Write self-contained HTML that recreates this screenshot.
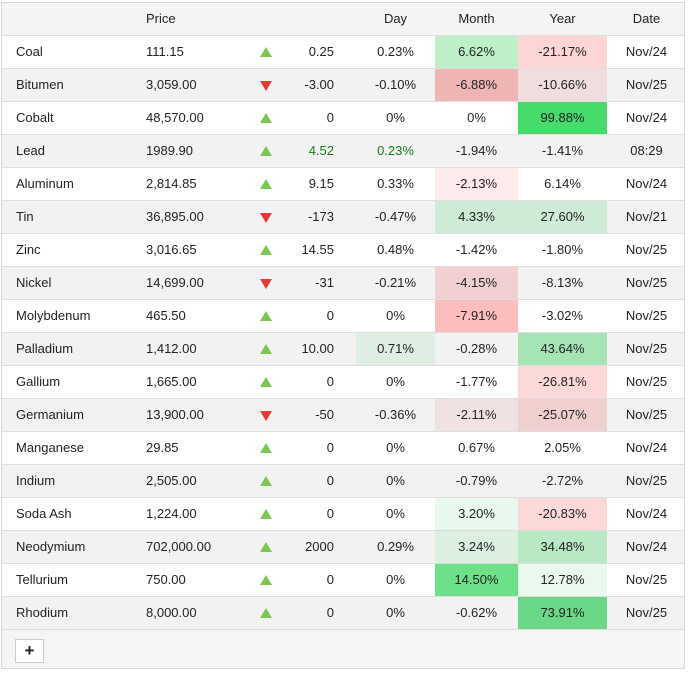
<!DOCTYPE html>
<html><head><style>
body{margin:0;width:689px;height:673px;background:#fff;font-family:"Liberation Sans",Arial,sans-serif;font-size:13px;color:#222;position:relative;overflow:hidden}
.wrap{position:absolute;left:1px;top:2px;width:684px;height:667px;border:1px solid #d8d8d8;box-sizing:border-box;background:#f5f5f5}
.r{position:absolute;left:0;width:682px;height:33px;border-bottom:1px solid #dedede;box-sizing:border-box;background:#fff}
.r.g{background:#f2f2f2}
.r.h{background:#f4f4f4}
.c{position:absolute;top:0;height:32px;line-height:32px;white-space:nowrap}
.n{left:14px}.p{left:144px}
.a{position:absolute;left:258px;top:11px;width:0;height:0;border-left:6px solid transparent;border-right:6px solid transparent}
.up{border-bottom:10px solid #7cc653}
.dn{border-top:10px solid #e53935;top:12px}
.ch{left:280px;width:52px;text-align:right}
.d{left:354px;width:79px;text-align:center}
.m{left:433px;width:83px;text-align:center}
.y{left:516px;width:89px;text-align:center}
.t{left:605px;width:79px;text-align:center}
.btn{position:absolute;left:15px;top:639px;width:29px;height:24px;border:1px solid #ccc;background:#fff;box-sizing:border-box;text-align:center;line-height:22px;font-weight:bold;font-size:17px}
</style></head><body><div class="wrap">
<div class="r h" style="top:0"><div class="c p">Price</div><div class="c d">Day</div><div class="c m">Month</div><div class="c y">Year</div><div class="c t">Date</div></div>
<div class="r" style="top:33px"><div class="c n">Coal</div><div class="c p">111.15</div><div class="a up"></div><div class="c ch">0.25</div><div class="c d">0.23%</div><div class="c m" style="background:#bdf0c9">6.62%</div><div class="c y" style="background:#fdd5d5">-21.17%</div><div class="c t">Nov/24</div></div>
<div class="r g" style="top:66px"><div class="c n">Bitumen</div><div class="c p">3,059.00</div><div class="a dn"></div><div class="c ch">-3.00</div><div class="c d">-0.10%</div><div class="c m" style="background:#efb5b5">-6.88%</div><div class="c y" style="background:#f0dddd">-10.66%</div><div class="c t">Nov/25</div></div>
<div class="r" style="top:99px"><div class="c n">Cobalt</div><div class="c p">48,570.00</div><div class="a up"></div><div class="c ch">0</div><div class="c d">0%</div><div class="c m">0%</div><div class="c y" style="background:#46dc6c">99.88%</div><div class="c t">Nov/24</div></div>
<div class="r g" style="top:132px"><div class="c n">Lead</div><div class="c p">1989.90</div><div class="a up"></div><div class="c ch" style="color:#1a7a1a">4.52</div><div class="c d" style="color:#1a7a1a">0.23%</div><div class="c m">-1.94%</div><div class="c y">-1.41%</div><div class="c t">08:29</div></div>
<div class="r" style="top:165px"><div class="c n">Aluminum</div><div class="c p">2,814.85</div><div class="a up"></div><div class="c ch">9.15</div><div class="c d">0.33%</div><div class="c m" style="background:#fdeaea">-2.13%</div><div class="c y">6.14%</div><div class="c t">Nov/24</div></div>
<div class="r g" style="top:198px"><div class="c n">Tin</div><div class="c p">36,895.00</div><div class="a dn"></div><div class="c ch">-173</div><div class="c d">-0.47%</div><div class="c m" style="background:#cdebd5">4.33%</div><div class="c y" style="background:#cdebd5">27.60%</div><div class="c t">Nov/21</div></div>
<div class="r" style="top:231px"><div class="c n">Zinc</div><div class="c p">3,016.65</div><div class="a up"></div><div class="c ch">14.55</div><div class="c d">0.48%</div><div class="c m">-1.42%</div><div class="c y">-1.80%</div><div class="c t">Nov/25</div></div>
<div class="r g" style="top:264px"><div class="c n">Nickel</div><div class="c p">14,699.00</div><div class="a dn"></div><div class="c ch">-31</div><div class="c d">-0.21%</div><div class="c m" style="background:#f0d0d0">-4.15%</div><div class="c y">-8.13%</div><div class="c t">Nov/25</div></div>
<div class="r" style="top:297px"><div class="c n">Molybdenum</div><div class="c p">465.50</div><div class="a up"></div><div class="c ch">0</div><div class="c d">0%</div><div class="c m" style="background:#fdbdbd">-7.91%</div><div class="c y">-3.02%</div><div class="c t">Nov/25</div></div>
<div class="r g" style="top:330px"><div class="c n">Palladium</div><div class="c p">1,412.00</div><div class="a up"></div><div class="c ch">10.00</div><div class="c d" style="background:#dfeee3">0.71%</div><div class="c m">-0.28%</div><div class="c y" style="background:#a6e4b5">43.64%</div><div class="c t">Nov/25</div></div>
<div class="r" style="top:363px"><div class="c n">Gallium</div><div class="c p">1,665.00</div><div class="a up"></div><div class="c ch">0</div><div class="c d">0%</div><div class="c m">-1.77%</div><div class="c y" style="background:#fdd8d8">-26.81%</div><div class="c t">Nov/25</div></div>
<div class="r g" style="top:396px"><div class="c n">Germanium</div><div class="c p">13,900.00</div><div class="a dn"></div><div class="c ch">-50</div><div class="c d">-0.36%</div><div class="c m" style="background:#f0e2e2">-2.11%</div><div class="c y" style="background:#f0cfcf">-25.07%</div><div class="c t">Nov/25</div></div>
<div class="r" style="top:429px"><div class="c n">Manganese</div><div class="c p">29.85</div><div class="a up"></div><div class="c ch">0</div><div class="c d">0%</div><div class="c m">0.67%</div><div class="c y">2.05%</div><div class="c t">Nov/24</div></div>
<div class="r g" style="top:462px"><div class="c n">Indium</div><div class="c p">2,505.00</div><div class="a up"></div><div class="c ch">0</div><div class="c d">0%</div><div class="c m">-0.79%</div><div class="c y">-2.72%</div><div class="c t">Nov/25</div></div>
<div class="r" style="top:495px"><div class="c n">Soda Ash</div><div class="c p">1,224.00</div><div class="a up"></div><div class="c ch">0</div><div class="c d">0%</div><div class="c m" style="background:#e8f8ec">3.20%</div><div class="c y" style="background:#fdd8d8">-20.83%</div><div class="c t">Nov/24</div></div>
<div class="r g" style="top:528px"><div class="c n">Neodymium</div><div class="c p">702,000.00</div><div class="a up"></div><div class="c ch">2000</div><div class="c d">0.29%</div><div class="c m" style="background:#dcefe0">3.24%</div><div class="c y" style="background:#b8e8c4">34.48%</div><div class="c t">Nov/24</div></div>
<div class="r" style="top:561px"><div class="c n">Tellurium</div><div class="c p">750.00</div><div class="a up"></div><div class="c ch">0</div><div class="c d">0%</div><div class="c m" style="background:#6ee08a">14.50%</div><div class="c y" style="background:#eaf8ed">12.78%</div><div class="c t">Nov/25</div></div>
<div class="r g" style="top:594px"><div class="c n">Rhodium</div><div class="c p">8,000.00</div><div class="a up"></div><div class="c ch">0</div><div class="c d">0%</div><div class="c m">-0.62%</div><div class="c y" style="background:#6ad886">73.91%</div><div class="c t">Nov/25</div></div>
</div>
<div class="btn">+</div>
</body></html>
